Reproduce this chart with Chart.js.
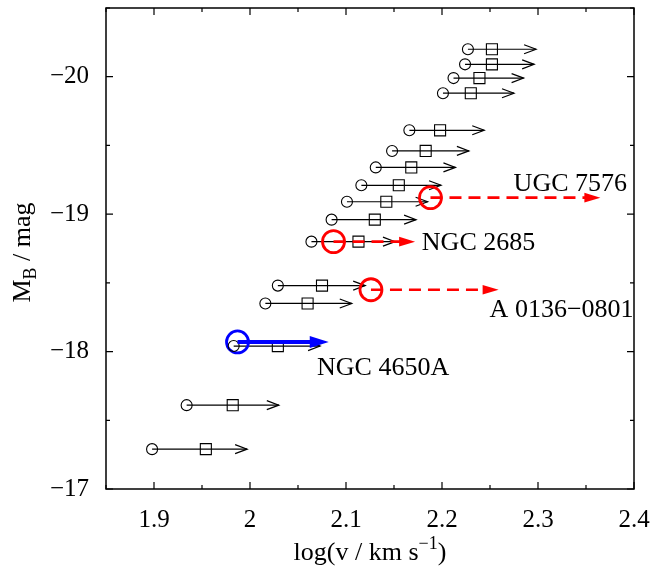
<!DOCTYPE html>
<html>
<head>
<meta charset="utf-8">
<script src="https://cdn.jsdelivr.net/npm/chart.js@4.4.1/dist/chart.umd.min.js"></script>
<style>
  body { margin: 0; background: #fff; }
</style>
</head>
<body>
<canvas id="tf" width="654" height="569"></canvas>
<script>
// data block: one row per galaxy
var mag      = [-20.20, -20.09, -19.99, -19.88, -19.61, -19.46, -19.34, -19.21, -19.09, -18.96, -18.80, -18.48, -18.35, -18.04, -17.61, -17.29];
var logvLow  = [2.227, 2.224, 2.212, 2.201, 2.166, 2.148, 2.131, 2.116, 2.101, 2.085, 2.064, 2.029, 2.016, 1.983, 1.934, 1.898];
var logvMid  = [2.252, 2.252, 2.239, 2.230, 2.198, 2.183, 2.168, 2.155, 2.142, 2.130, 2.113, 2.075, 2.060, 2.029, 1.982, 1.954];
var logvLim  = [2.298, 2.296, 2.285, 2.275, 2.244, 2.228, 2.214, 2.199, 2.185, 2.173, 2.151, 2.120, 2.106, 2.073, 2.030, 1.997];

// the four labelled galaxies
var names    = ['UGC 7576', 'NGC 2685', 'A 0136\u22120801', 'NGC 4650A'];
var namedX   = [2.188, 2.087, 2.126, 1.987];
var namedMag = [-19.12, -18.80, -18.45, -18.07];
var namedLim = [2.365, 2.172, 2.259, 2.082];

var xTicks = [1.9, 2.0, 2.1, 2.2, 2.3, 2.4];
var yTicks = [-20, -19, -18, -17];

// styles kept apart from the data
var namedColor = ['#ff0000', '#ff0000', '#ff0000', '#0000ff'];
var namedDash  = [true, true, true, false];
var labelAt    = [[2.2746, -19.17], [2.179, -18.74], [2.2496, -18.255], [2.0698, -17.83]]; // text left / baseline

var serif = '"Liberation Serif", "DejaVu Serif", serif';

function pts(xs, ys) {
  return xs.map(function (x, i) { return {x: x, y: ys[i]}; });
}

function arrowHead(ctx, x, y, len, half, filled) {
  ctx.beginPath();
  ctx.moveTo(x - len, y - half);
  ctx.lineTo(x, y);
  ctx.lineTo(x - len, y + half);
  if (filled) { ctx.closePath(); ctx.fill(); } else { ctx.stroke(); }
}

// scale padding from edge labels would shrink the frame, drop it
function noPad(s) {
  s.paddingTop = 0; s.paddingBottom = 0; s.paddingLeft = 0; s.paddingRight = 0;
}

const arrows = {
  id: 'arrows',
  beforeDatasetsDraw(chart) {
    const ctx = chart.ctx, xs = chart.scales.x, ys = chart.scales.y;
    ctx.save();
    ctx.strokeStyle = '#000';
    ctx.lineWidth = 1.2;
    mag.forEach(function (m, i) {
      const y = ys.getPixelForValue(m);
      const x0 = xs.getPixelForValue(logvLow[i]);
      const x1 = xs.getPixelForValue(logvLim[i]);
      ctx.beginPath();
      ctx.moveTo(x0, y);
      ctx.lineTo(x1, y);
      ctx.stroke();
      arrowHead(ctx, x1, y, 12, 4.5, false);
    });
    ctx.restore();
  },
  afterDatasetsDraw(chart) {
    const ctx = chart.ctx, xs = chart.scales.x, ys = chart.scales.y;
    ctx.save();
    names.forEach(function (n, i) {
      const y = ys.getPixelForValue(namedMag[i]);
      const x0 = xs.getPixelForValue(namedX[i]);
      const x1 = xs.getPixelForValue(namedLim[i]);
      ctx.strokeStyle = namedColor[i];
      ctx.fillStyle = namedColor[i];
      const head = namedDash[i] ? 16 : 19;
      ctx.lineWidth = namedDash[i] ? 2.6 : 4;
      ctx.setLineDash(namedDash[i] ? [12, 7] : []);
      ctx.beginPath();
      ctx.moveTo(x0, y);
      ctx.lineTo(x1 - head + 2, y);
      ctx.stroke();
      ctx.setLineDash([]);
      arrowHead(ctx, x1, y, head, namedDash[i] ? 4.8 : 6, true);

      ctx.fillStyle = '#000';
      ctx.font = '26px ' + serif;
      ctx.textBaseline = 'alphabetic';
      ctx.textAlign = 'left';
      ctx.fillText(n, xs.getPixelForValue(labelAt[i][0]), ys.getPixelForValue(labelAt[i][1]));
    });
    ctx.restore();
  },
  afterDraw(chart) {
    const ctx = chart.ctx, a = chart.chartArea, xs = chart.scales.x, ys = chart.scales.y;
    ctx.save();
    ctx.strokeStyle = '#000';
    ctx.lineWidth = 1.5;
    ctx.strokeRect(a.left, a.top, a.right - a.left, a.bottom - a.top);
    ctx.lineWidth = 1.2;
    // inward ticks on all four sides, minor ones halfway
    for (let v = 1.85; v <= 2.4001; v += 0.05) {
      const major = Math.abs(v * 10 - Math.round(v * 10)) < 1e-6;
      const len = major ? 7 : 4;
      const px = xs.getPixelForValue(v);
      ctx.beginPath();
      ctx.moveTo(px, a.bottom); ctx.lineTo(px, a.bottom - len);
      ctx.moveTo(px, a.top); ctx.lineTo(px, a.top + len);
      ctx.stroke();
    }
    for (let v = -20.5; v <= -17; v += 0.5) {
      const len = Number.isInteger(v) ? 7 : 4;
      const py = ys.getPixelForValue(v);
      ctx.beginPath();
      ctx.moveTo(a.left, py); ctx.lineTo(a.left + len, py);
      ctx.moveTo(a.right, py); ctx.lineTo(a.right - len, py);
      ctx.stroke();
    }

    // axis titles with sub/superscripts
    ctx.fillStyle = '#000';
    ctx.textBaseline = 'alphabetic';
    ctx.textAlign = 'left';
    const big = '26px ' + serif, small = '18px ' + serif;
    ctx.font = big;
    const p1 = 'log(v / km s', p3 = ')';
    ctx.font = small; const w2 = ctx.measureText('\u22121').width;
    ctx.font = big;
    const w1 = ctx.measureText(p1).width, w3 = ctx.measureText(p3).width;
    let x = (a.left + a.right) / 2 - (w1 + w2 + w3) / 2;
    const base = 560;
    ctx.fillText(p1, x, base);
    ctx.font = small; ctx.fillText('\u22121', x + w1, base - 11);
    ctx.font = big; ctx.fillText(p3, x + w1 + w2, base);

    ctx.translate(30, (a.top + a.bottom) / 2 + 4);
    ctx.rotate(-Math.PI / 2);
    ctx.font = big; const m1 = ctx.measureText('M').width;
    ctx.font = small; const m2 = ctx.measureText('B').width;
    ctx.font = big; const m3 = ctx.measureText(' / mag').width;
    x = -(m1 + m2 + m3) / 2;
    ctx.fillText('M', x, 0);
    ctx.font = small; ctx.fillText('B', x + m1, 6);
    ctx.font = big; ctx.fillText(' / mag', x + m1 + m2, 0);
    ctx.restore();
  }
};

const data = {
  datasets: [
    {
      label: 'lower limit',
      data: pts(logvLow, mag),
      pointStyle: 'circle',
      pointRadius: 5.5,
      borderColor: '#000',
      backgroundColor: 'rgba(0,0,0,0)',
      borderWidth: 1.1
    },
    {
      label: 'estimate',
      data: pts(logvMid, mag),
      pointStyle: 'rect',
      pointRadius: 7.8,
      borderColor: '#000',
      backgroundColor: 'rgba(0,0,0,0)',
      borderWidth: 1.1
    },
    {
      label: 'named',
      data: pts(namedX, namedMag),
      pointStyle: 'circle',
      pointRadius: 11,
      borderColor: namedColor,
      backgroundColor: 'rgba(0,0,0,0)',
      borderWidth: 2.8
    }
  ]
};

const config = {
  type: 'scatter',
  data,
  options: {
    responsive: false,
    animation: false,
    devicePixelRatio: 1,
    layout: { autoPadding: false, padding: { left: 0, right: 20, top: 8, bottom: 0 } },
    plugins: { legend: { display: false }, tooltip: { enabled: false } },
    scales: {
      x: {
        type: 'linear',
        min: 1.85,
        max: 2.4,
        grid: { display: false, drawTicks: false },
        border: { display: false },
        afterBuildTicks: function (s) { s.ticks = xTicks.map(function (v) { return {value: v}; }); },
        afterFit: function (s) { s.height = 80; noPad(s); },
        ticks: {
          padding: 16,
          color: '#000',
          font: { family: serif, size: 25 },
          maxRotation: 0,
          callback: function (v) { return String(Math.round(v * 10) / 10); }
        }
      },
      y: {
        type: 'linear',
        min: -20.5,
        max: -17,
        reverse: true,
        grid: { display: false, drawTicks: false },
        border: { display: false },
        afterBuildTicks: function (s) { s.ticks = yTicks.map(function (v) { return {value: v}; }); },
        afterFit: function (s) { s.width = 106; noPad(s); },
        ticks: {
          padding: 17,
          color: '#000',
          font: { family: serif, size: 25 },
          callback: function (v) { return (v < 0 ? '\u2212' : '') + Math.abs(v); }
        }
      }
    }
  },
  plugins: [arrows]
};

const chart = new Chart(document.getElementById('tf'), config);
</script>
</body>
</html>
